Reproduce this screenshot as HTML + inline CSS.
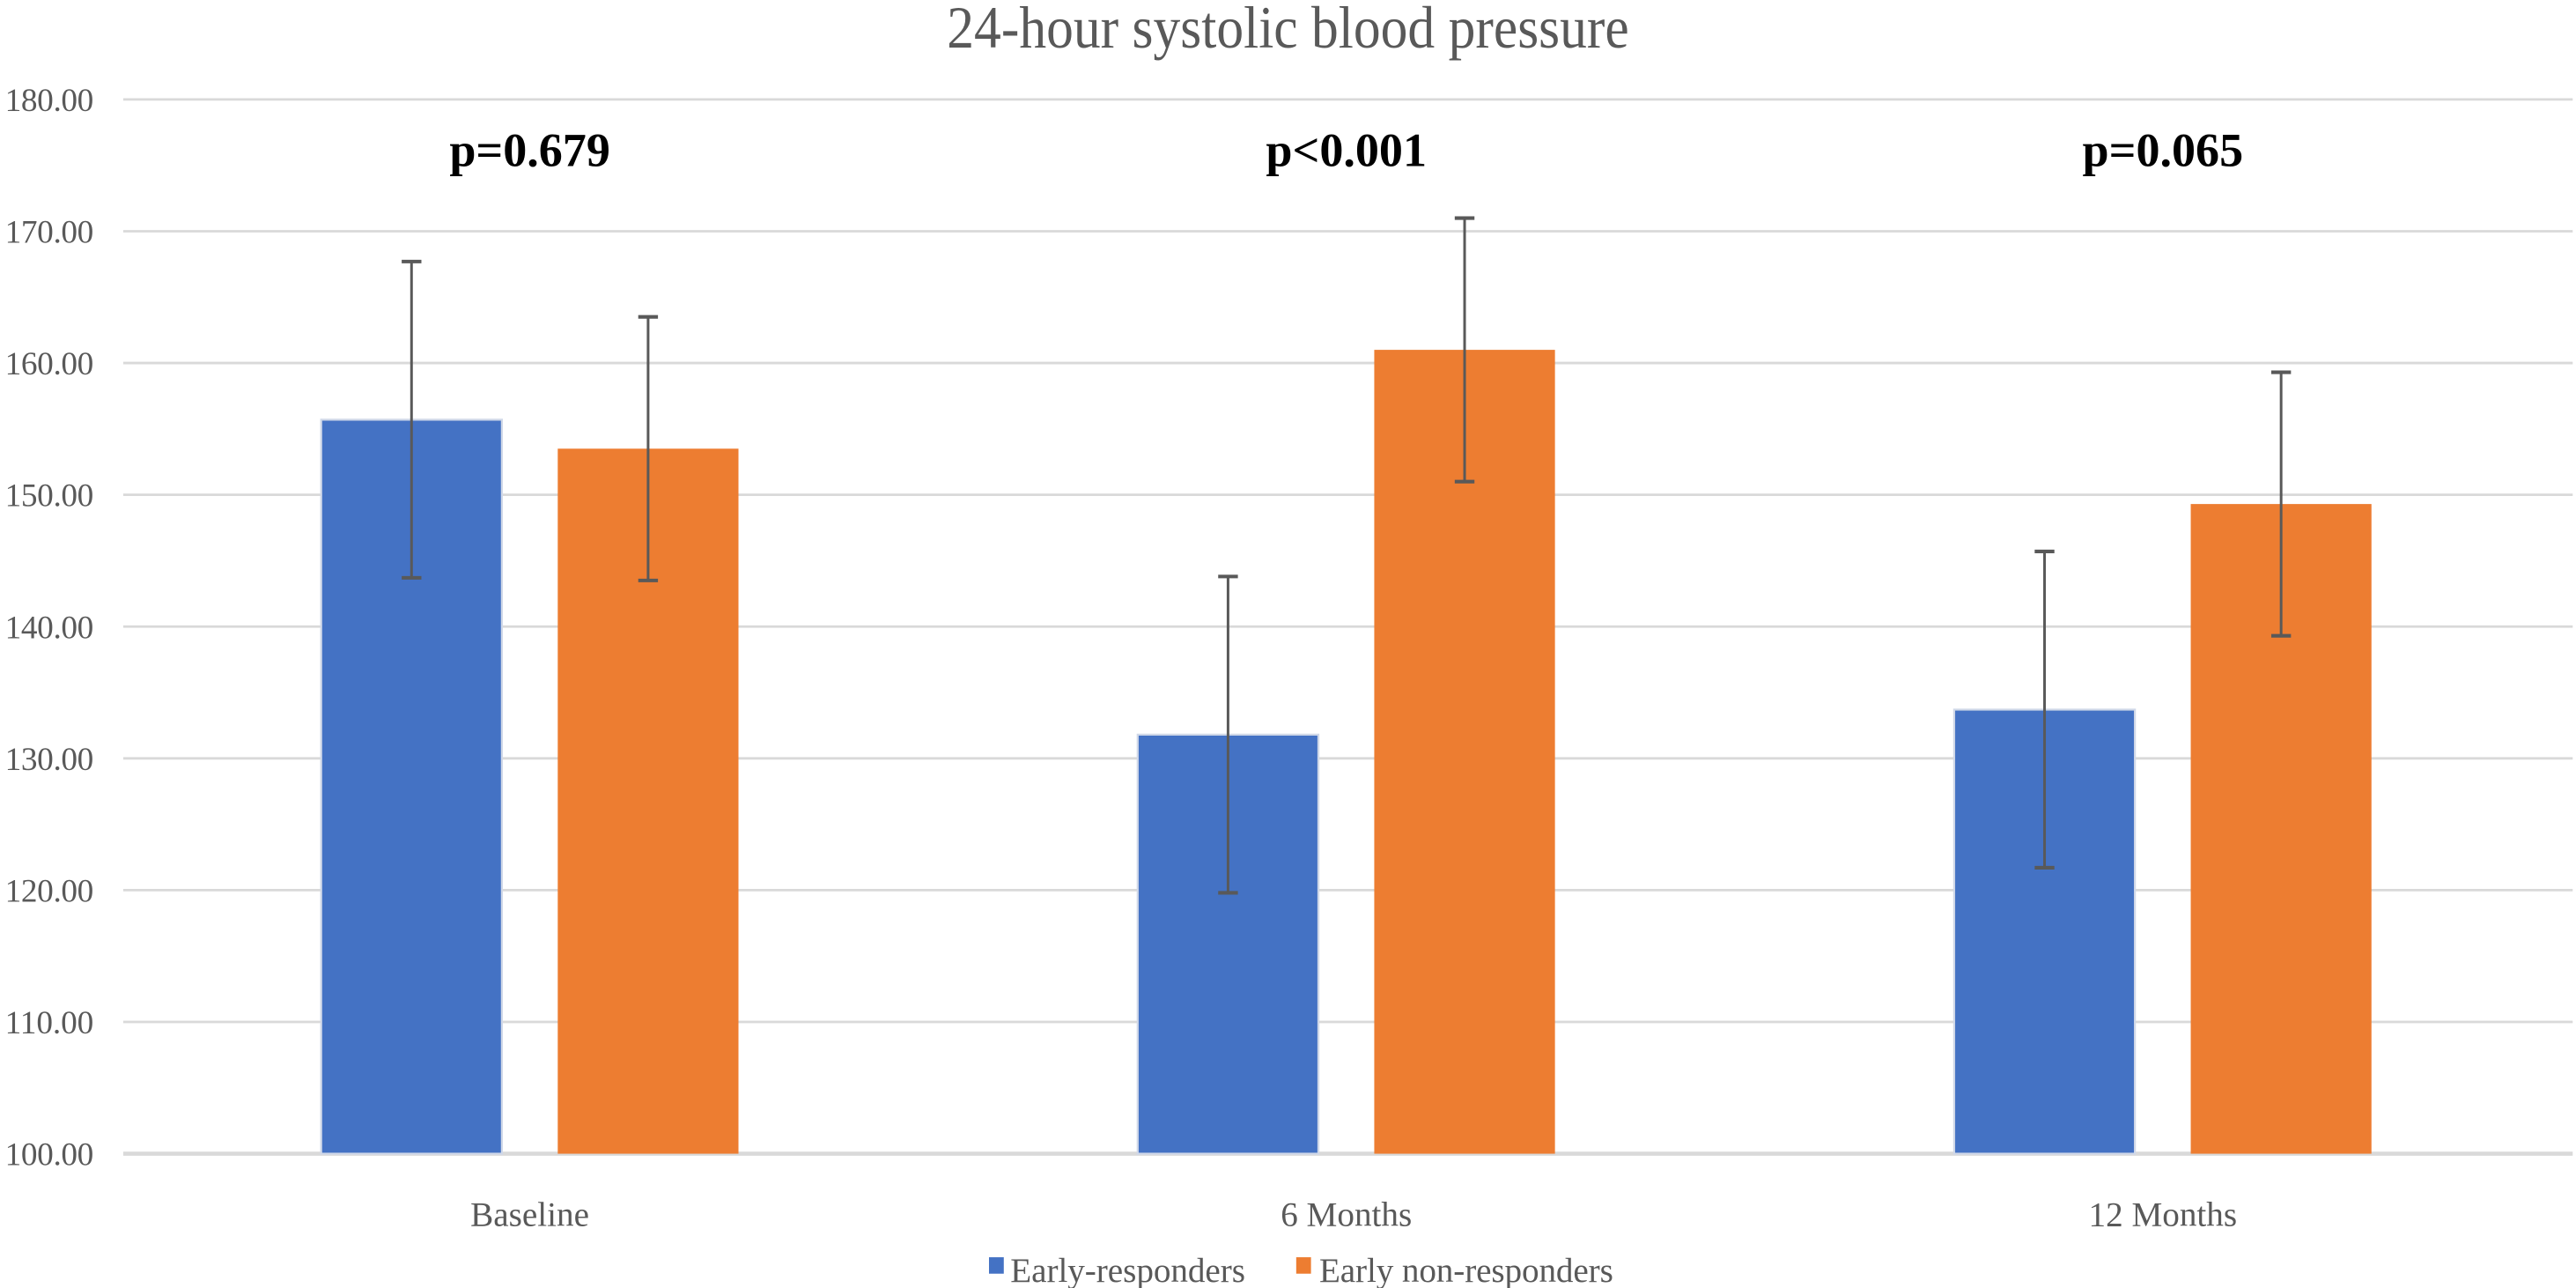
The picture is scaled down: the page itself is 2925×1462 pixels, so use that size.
<!DOCTYPE html>
<html><head><meta charset="utf-8"><style>
html,body{margin:0;padding:0;background:#fff;}
svg{display:block;}
text{font-family:"Liberation Serif",serif;}
</style></head><body>
<svg id="chart" width="2925" height="1462" viewBox="0 0 1568 783.7" xmlns="http://www.w3.org/2000/svg">
<rect width="1568" height="784" fill="#fff"/>
<text x="784" y="29" text-anchor="middle" font-size="33" fill="#595959" transform="translate(784,29) scale(1,1.1) translate(-784,-29)">24-hour systolic blood pressure</text>
<g id="grid"></g><g id="bars"></g><g id="errs"></g><g id="labels"></g>
<g>
<rect x="602" y="765" width="9" height="10" fill="#4472C4"/>
<text x="615" y="780" font-size="21" fill="#595959" textLength="143">Early-responders</text>
<rect x="789" y="765" width="9" height="10" fill="#ED7D31"/>
<text x="803" y="780" font-size="21" fill="#595959" textLength="179">Early non-responders</text>
</g>
</svg>
<script>
const categories = ["Baseline", "6 Months", "12 Months"];
const earlyResponders = [155.7, 131.8, 133.7];
const earlyNonResponders = [153.5, 161.0, 149.3];
const errResponders = [12.0, 12.0, 12.0];
const errNonResponders = [10.0, 10.0, 10.0];
const pValues = ["p=0.679", "p<0.001", "p=0.065"];
const yTicks = [100, 110, 120, 130, 140, 150, 160, 170, 180];

const NS = "http://www.w3.org/2000/svg";
const yMin = 100, yMax = 180, yTop = 60.5, yBot = 702;
const xLeft = 75, xRight = 1566;
function y(v){ return yBot - (v - yMin) / (yMax - yMin) * (yBot - yTop); }
const catW = (xRight - xLeft) / categories.length;
function xc(i){ return xLeft + catW * (i + 0.5) - 1; }
const barW = 110, gap = 34;
function mk(tag, attrs, parent){ const e = document.createElementNS(NS, tag); for (const k in attrs) e.setAttribute(k, attrs[k]); parent.appendChild(e); return e; }
const grid = document.getElementById('grid'), bars = document.getElementById('bars'), errs = document.getElementById('errs'), labels = document.getElementById('labels');

yTicks.forEach(t => {
  const l = mk('line', {x1: xLeft, x2: xRight, y1: y(t), y2: y(t), stroke: '#d9d9d9', 'stroke-width': t === 100 ? 2.5 : 1.5}, grid);
  
  
  const tx = mk('text', {x: 57, y: y(t) + 7, 'text-anchor': 'end', 'font-size': 20, fill: '#595959', textLength: 54}, labels);
  tx.textContent = t.toFixed(2);
  
  
});

categories.forEach((c, i) => {
  const cx = xc(i);
  const series = [
    {v: earlyResponders[i], e: errResponders[i], color: '#4472C4', x: cx - gap/2 - barW, n: 'early-responders'},
    {v: earlyNonResponders[i], e: errNonResponders[i], color: '#ED7D31', x: cx + gap/2, n: 'early-non-responders'}
  ];
  series.forEach(s => {
    const r = mk('rect', {x: s.x, y: y(s.v), width: barW, height: y(yMin) - y(s.v), fill: s.color, stroke: s.n === 'early-responders' ? '#d0d8e8' : 'none', 'stroke-width': 1.2}, bars);
    
    
    const mx = s.x + barW / 2;
    const g = mk('g', {stroke: '#595959', 'stroke-width': 1.6}, errs);
    
    
    mk('line', {x1: mx, x2: mx, y1: y(s.v + s.e), y2: y(s.v - s.e)}, g);
    mk('line', {x1: mx - 6, x2: mx + 6, y1: y(s.v + s.e), y2: y(s.v + s.e), 'stroke-width': 2.2}, g);
    mk('line', {x1: mx - 6, x2: mx + 6, y1: y(s.v - s.e), y2: y(s.v - s.e), 'stroke-width': 2.2}, g);
  });
  const cl = mk('text', {x: cx, y: 746, 'text-anchor': 'middle', 'font-size': 21, fill: '#595959'}, labels);
  cl.textContent = c;
  
  
  const p = mk('text', {x: cx, y: 101, 'text-anchor': 'middle', 'font-size': 29, 'font-weight': 'bold', fill: '#000'}, labels);
  p.textContent = pValues[i];
  
  
});
</script>
</body></html>
